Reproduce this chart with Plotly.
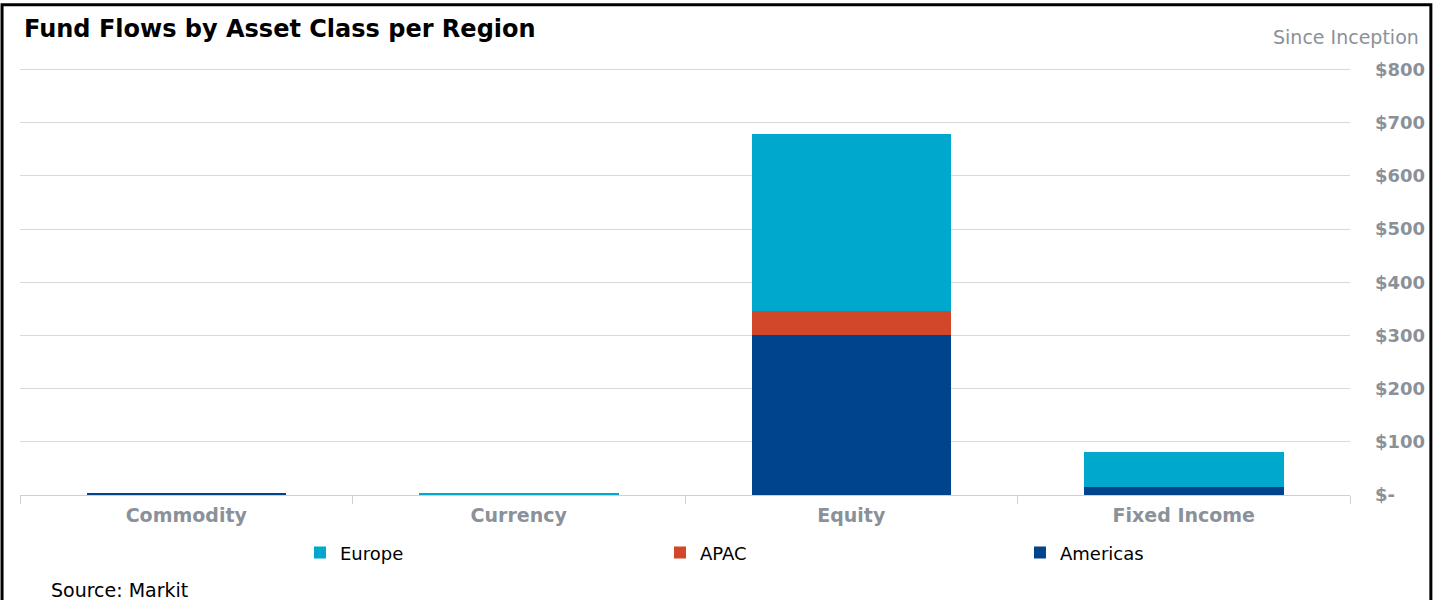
import plotly.graph_objects as go

categories = ["Commodity", "Currency", "Equity", "Fixed Income"]
americas = [3, 0, 300, 15]
apac = [0, 0, 46, 0]
europe = [0, 3, 332, 66]
tick_vals = [0, 100, 200, 300, 400, 500, 600, 700, 800]
tick_text = ["$-", "$100", "$200", "$300", "$400", "$500", "$600", "$700", "$800"]

FONT = "DejaVu Sans, Liberation Sans, Arial, sans-serif"
fig = go.Figure()
fig.add_trace(go.Bar(name="Americas", x=categories, y=americas, marker_color="#00448E",
                     marker_line_width=0, legendrank=3))
fig.add_trace(go.Bar(name="APAC", x=categories, y=apac, marker_color="#D2462A",
                     marker_line_width=0, legendrank=2))
fig.add_trace(go.Bar(name="Europe", x=categories, y=europe, marker_color="#00A8CE",
                     marker_line_width=0, legendrank=1))

fig.update_layout(
    width=1437, height=600,
    barmode="stack", bargap=0.4,
    paper_bgcolor="white", plot_bgcolor="white",
    margin=dict(l=20, r=85, t=68, b=105),
    font=dict(family=FONT, color="#000000"),
    showlegend=True,
    legend=dict(orientation="h", x=0.2105, xanchor="left", y=-0.092, yanchor="top",
                font=dict(size=18, family=FONT, color="#000000"),
                entrywidth=315, itemwidth=30, traceorder="normal"),
    xaxis=dict(showgrid=False, showline=True, linecolor="#D0D0D0", linewidth=1,
               ticks="outside", tickson="boundaries", ticklen=8, tickcolor="#D0D0D0",
               ticklabelstandoff=3,
               tickfont=dict(size=19, family=FONT, color="#8A9199", weight="bold")),
    yaxis=dict(side="right", range=[0, 803], tickvals=tick_vals, ticktext=tick_text,
               showgrid=True, gridcolor="#D9D9D9", gridwidth=1, zeroline=False,
               ticks="", ticklabelstandoff=24,
               tickfont=dict(size=18, family=FONT, color="#8A9199", weight="bold")),
)
fig.add_annotation(text="<b>Fund Flows by Asset Class per Region</b>", xref="paper", yref="paper",
                   x=0.0, xshift=2, y=1.0, yshift=39, xanchor="left", yanchor="middle", showarrow=False,
                   font=dict(size=24, family=FONT, color="#000000"))
fig.add_annotation(text="Since Inception", xref="paper", yref="paper",
                   x=1.0, xshift=71, y=1.0, yshift=31, xanchor="right", yanchor="middle",
                   showarrow=False, font=dict(size=19, family=FONT, color="#8A9199"))
fig.add_annotation(text="Source: Markit", xref="paper", yref="paper",
                   x=0.0, xshift=29, y=0.0, yshift=-95, xanchor="left", yanchor="middle",
                   showarrow=False, font=dict(size=19, family=FONT, color="#000000"))
fig.add_shape(type="rect", xref="paper", yref="paper", x0=-0.0135, x1=1.0608,
              y0=-0.4, y1=1.148, line=dict(color="#000000", width=3), fillcolor="rgba(0,0,0,0)",
              layer="above")
fig.write_html("out.html", config={"displayModeBar": False},
               post_script="document.body.style.margin='0';document.body.style.overflow='hidden';")
